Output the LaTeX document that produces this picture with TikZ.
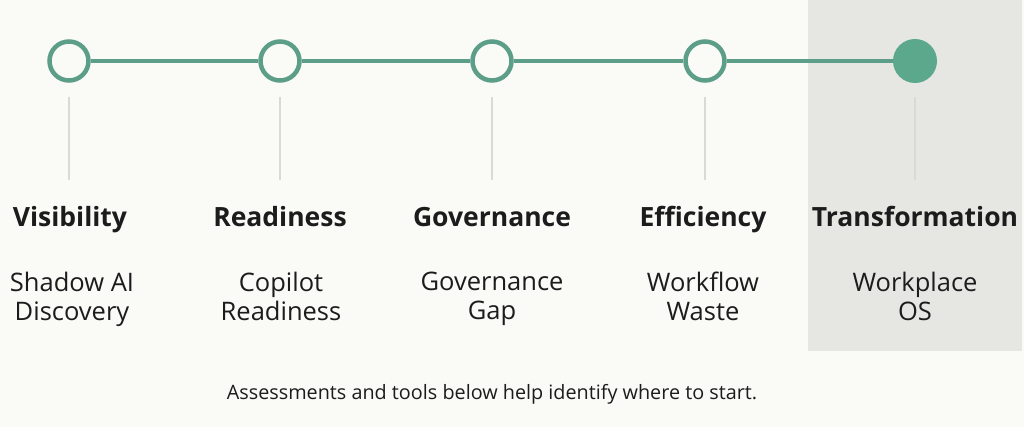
\documentclass[tikz,border=0pt]{standalone}
\usepackage{fontspec}
\setmainfont{Open Sans}
\definecolor{bgc}{HTML}{FAFAF7}
\definecolor{panel}{HTML}{E6E6E3}
\definecolor{teal}{HTML}{5C9E88}
\definecolor{tealfill}{HTML}{5BA88C}
\definecolor{vline}{HTML}{D9D9D6}
\definecolor{ink}{HTML}{1C1C1C}
\tikzset{
  stage/.style={circle, draw=teal, line width=4.5pt, fill=bgc, minimum size=39pt, inner sep=0pt},
  stagedone/.style={circle, fill=tealfill, minimum size=44pt, inner sep=0pt},
  track/.style={draw=teal, line width=4.5pt},
  tick/.style={draw=vline, line width=1.2pt},
  title/.style={font=\fontsize{26.5}{30}\selectfont\bfseries, text=ink, anchor=base},
  sub/.style={font=\fontsize{25.5}{28.5}\selectfont, text=ink, align=center, anchor=north},
  foot/.style={font=\fontsize{19.8}{24}\selectfont, text=ink, anchor=base}
}
\begin{document}
\begin{tikzpicture}[x=1pt,y=-1pt]
\path[fill=bgc] (0,0) rectangle (1024,427);
\useasboundingbox (0,0) rectangle (1024,427);
\path[fill=panel] (808,0) rectangle (1022,351);
% stages
\node[stage] (c1) at (69,61) {};
\node[stage] (c2) at (280,61) {};
\node[stage] (c3) at (492,61) {};
\node[stage] (c4) at (705,61) {};
\node[stagedone] (c5) at (915,61) {};
\draw[track] (c1) -- (c2);
\draw[track] (c2) -- (c3);
\draw[track] (c3) -- (c4);
\draw[track] (c4) -- (c5);
% ticks
\foreach \i/\x in {1/69,2/280,3/492,4/705,5/915}{
  \coordinate (t\i a) at (\x,97);
  \coordinate (t\i b) at (\x,180);
  \draw[tick] (t\i a) -- (t\i b);
}
% titles
\node[title] (h1) at (70,227) {Visibility};
\node[title] (h2) at (280,227) {Readiness};
\node[title] (h3) at (492,227) {Governance};
\node[title] (h4) at (703,227) {Efficiency};
\node[title] (h5) at (915,227) {Transformation};
% subtitles
\node[sub] (s1) at (72,268.8) {Shadow AI\\Discovery};
\node[sub] (s2) at (281,268.8) {Copilot\\Readiness};
\node[sub] (s3) at (492,268.8) {Governance\\Gap};
\node[sub] (s4) at (703,268.8) {Workflow\\Waste};
\node[sub] (s5) at (915,268.8) {Workplace\\OS};
% footer
\node[foot] (ft) at (492,399) {Assessments and tools below help identify where to start.};
\end{tikzpicture}
\end{document}
